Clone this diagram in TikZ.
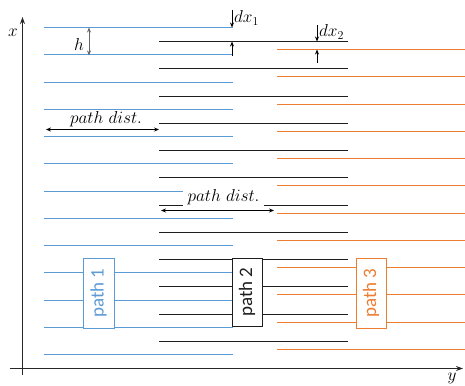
\documentclass[tikz,border=0pt]{standalone}
\usepackage{fontspec}
\newfontfamily\boxfont{Carlito}
\usetikzlibrary{arrows.meta}
\definecolor{pblue}{RGB}{91,155,213}
\definecolor{porange}{RGB}{237,125,49}
\definecolor{pblack}{RGB}{30,30,30}
\tikzset{
  blueline/.style={pblue, line width=1.1pt},
  blackline/.style={pblack, line width=1.1pt},
  orangeline/.style={porange, line width=1.1pt},
  axisline/.style={black!85, line width=1.1pt},
  dimarrow/.style={black, line width=0.8pt, -{Stealth[length=5pt,width=4pt]}},
  dimboth/.style={black, line width=0.8pt, {Stealth[length=5pt,width=4pt]}-{Stealth[length=5pt,width=4pt]}},
  pathbox/.style={draw, line width=1pt, fill=white, rotate=90, inner sep=0pt,
     minimum width=70pt, minimum height=31pt, font=\boxfont\fontsize{19}{19}\selectfont},
  mlabel/.style={inner sep=0pt, font=\fontsize{17.5}{17.5}\selectfont},
}
\begin{document}
\begin{tikzpicture}[x=1pt,y=-1pt]
\useasboundingbox (0,0) rectangle (465,385);
% axes
\coordinate (ax0) at (22.5,375);
\coordinate (ax1) at (22.5,17);
\coordinate (ay0) at (10,368.5);
\coordinate (ay1) at (463,368.5);
\draw[axisline, -{Stealth[length=7pt,width=5pt]}] (ax0) -- (ax1);
\draw[axisline, -{Stealth[length=7pt,width=5pt]}] (ay0) -- (ay1);
\node[mlabel] (xl) at (13,33) {$x$};
\node[mlabel] (yl) at (452,378) {$y$};
% lines
\foreach \k in {0,...,12} {
  \pgfmathsetmacro\yy{round(27+27.25*\k)+0.5}
  \draw[blueline] (44,\yy) -- (233,\yy);
}
\foreach \k in {0,...,11} {
  \pgfmathsetmacro\yb{round(41+27.27*\k)+0.5}
  \pgfmathsetmacro\yo{round(49+27.27*\k)+0.5}
  \draw[blackline] (159,\yb) -- (348,\yb);
  \draw[orangeline] (277,\yo) -- (465,\yo);
}
% h
\coordinate (h0) at (89,27.5);
\coordinate (h1) at (89,55.5);
\draw[dimboth, black!60] (h0) -- (h1);
\node[mlabel] (hl) at (79,45) {$h$};
% dx1
\coordinate (d1a) at (232,10);
\coordinate (d1b) at (232,27.5);
\coordinate (d1c) at (232,56);
\coordinate (d1d) at (232,41.5);
\draw[dimarrow] (d1a) -- (d1b);
\draw[dimarrow] (d1c) -- (d1d);
\node[mlabel, anchor=west] (d1l) at (234,18) {$dx_1$};
% dx2
\coordinate (d2a) at (317,25);
\coordinate (d2b) at (317,41.5);
\coordinate (d2c) at (317,63);
\coordinate (d2d) at (317,49.5);
\draw[dimarrow] (d2a) -- (d2b);
\draw[dimarrow] (d2c) -- (d2d);
\node[mlabel, anchor=west] (d2l) at (319,32) {$dx_2$};
% path dist top
\coordinate (p1a) at (46,129.5);
\coordinate (p1b) at (159,129.5);
\draw[dimboth] (p1a) -- (p1b);
\node[mlabel] (pd1) at (106,119) {$path\ dist.$};
% path dist lower
\node[mlabel, fill=white, minimum width=81pt, minimum height=18pt] (pd2) at (223.5,197.5) {$path\ dist.$};
\coordinate (p2a) at (161,210.5);
\coordinate (p2b) at (274,210.5);
\draw[dimboth] (p2a) -- (p2b);
% boxes
\node[pathbox, draw=pblue, text=pblue] (b1) at (98.5,293) {path 1};
\node[pathbox, draw=pblack, text=pblack, minimum width=68pt, minimum height=30pt] (b2) at (247,292) {path 2};
\node[pathbox, draw=porange, text=porange, minimum height=30pt] (b3) at (371,293) {path 3};
\end{tikzpicture}
\end{document}
